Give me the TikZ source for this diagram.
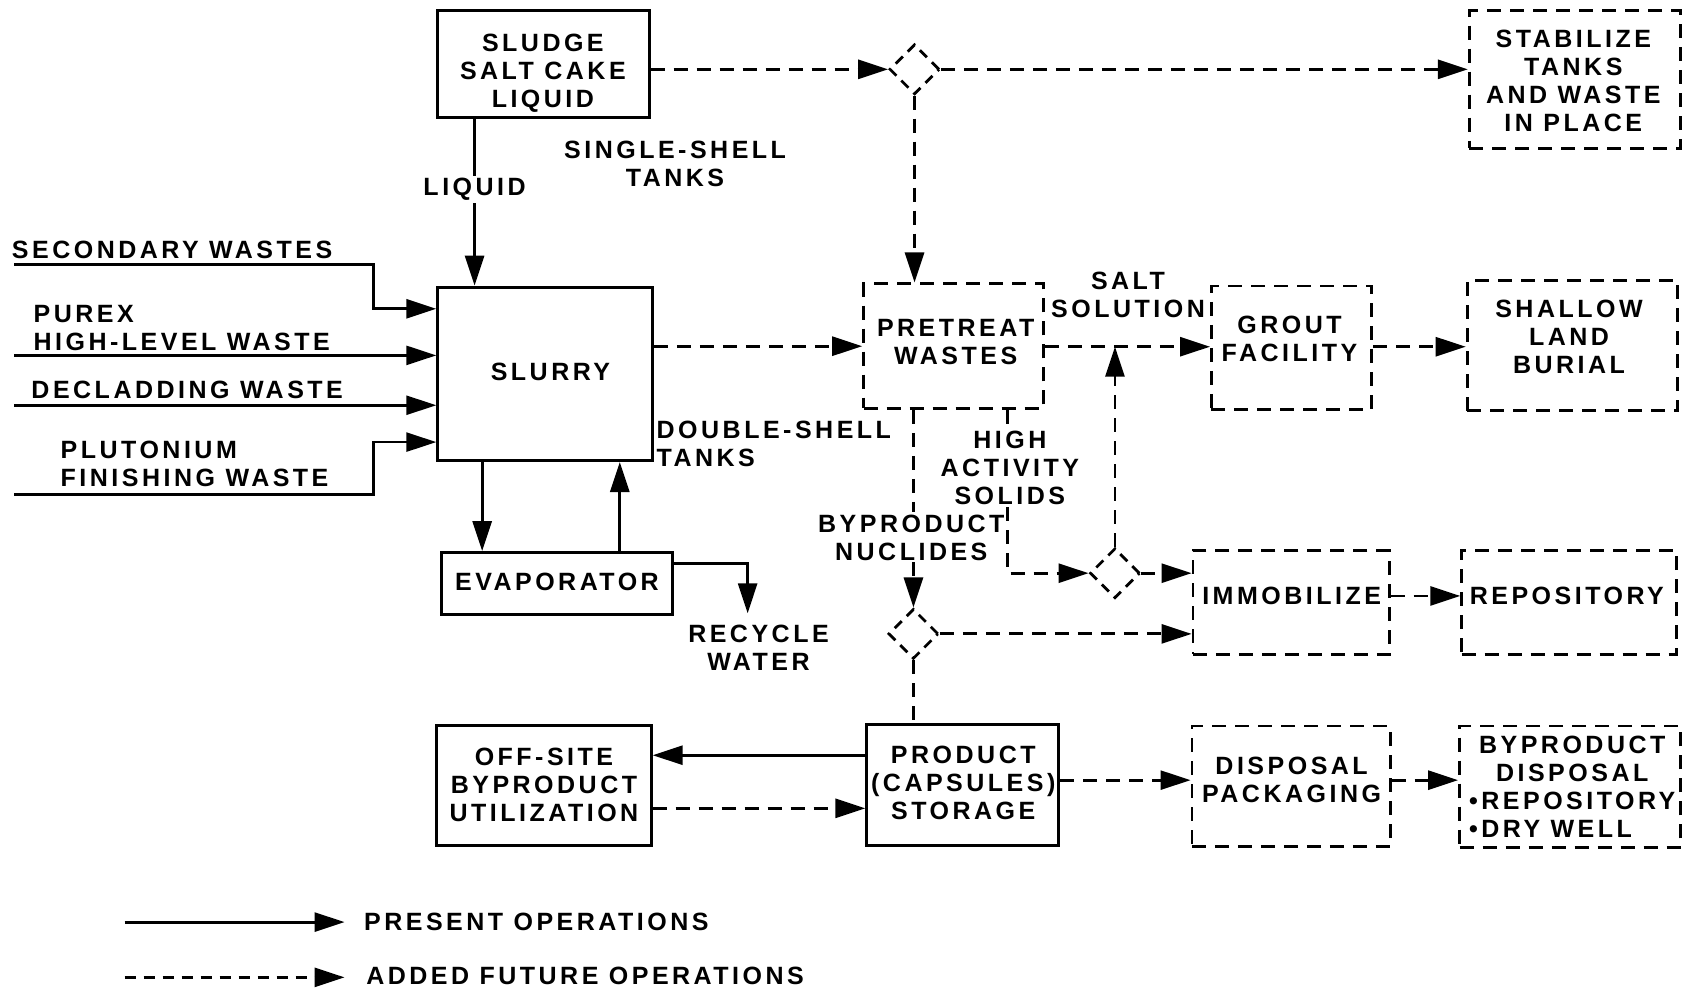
\documentclass[tikz,border=0pt]{standalone}
\usepackage{fontspec}
\newfontfamily\lblfont[LetterSpace=14]{Liberation Sans}
\usetikzlibrary{arrows.meta,shapes.geometric}
\begin{document}
\begin{tikzpicture}[x=1.0836pt,y=-1.0836pt,
  lbl/.style={font=\lblfont\bfseries\fontsize{25}{28}\selectfont, align=center, inner sep=2pt},
  sz/.style 2 args={minimum width=#1*1.0836pt, minimum height=#2*1.0836pt},
  solidbox/.style={draw, line width=3pt, inner sep=0pt},
  dashbox/.style={draw, line width=2.8pt, dash pattern=on 14pt off 9pt, inner sep=0pt},
  ln/.style={line width=2.8pt},
  arr/.style={ln, -{Triangle[length=30pt,width=19pt]}},
  dln/.style={ln, dash pattern=on 14pt off 9pt},
  darr/.style={dln, -{Triangle[length=30pt,width=19pt]}},
  junction/.style={diamond, aspect=1, draw, line width=2.8pt, dash pattern=on 10pt off 7pt, minimum size=50pt, inner sep=0pt}
]
\useasboundingbox (0,0) rectangle (1568,913);

% ---- boxes ----
\node[solidbox,sz={195}{98}]  (sludge)    at (501.5,59)   {};
\node[solidbox,sz={198}{160}] (slurry)    at (503,345)    {};
\node[solidbox,sz={214}{57}]  (evap)      at (514,538.5)  {};
\node[solidbox,sz={198}{110}] (offsite)   at (502,725)    {};
\node[solidbox,sz={177}{111}] (product)   at (888.5,724.5){};
\node[dashbox,sz={166}{115}]  (pretreat)  at (880,319.5)  {};
\node[dashbox,sz={148}{114}]  (grout)     at (1192,321)   {};
\node[dashbox,sz={194}{120}]  (shallow)   at (1451,319)   {};
\node[dashbox,sz={195}{127}]  (stabilize) at (1453.5,73.5){};
\node[dashbox,sz={181}{96}]   (immob)     at (1191.5,556) {};
\node[dashbox,sz={198}{96}]   (repos)     at (1448,556)   {};
\node[dashbox,sz={183}{111}]  (dispack)   at (1191.5,725.5){};
\node[dashbox,sz={204}{112}]  (bydisp)    at (1449,726)   {};

% ---- box texts ----
\node[lbl] (tsludge)   at (501,67.5)  {SLUDGE\\SALT CAKE\\LIQUID};
\node[lbl] (tslurry)   at (508,343)   {SLURRY};
\node[lbl] (tevap)     at (514,537)   {EVAPORATOR};
\node[lbl] (toffsite)  at (502,724.5) {OFF-SITE\\BYPRODUCT\\UTILIZATION};
\node[lbl] (tproduct)  at (889,722.5) {PRODUCT\\(CAPSULES)\\STORAGE};
\node[lbl] (tpretreat) at (882,315.5) {PRETREAT\\WASTES};
\node[lbl] (tgrout)    at (1190,313)  {GROUT\\FACILITY};
\node[lbl] (tshallow)  at (1448,311)  {SHALLOW\\LAND\\BURIAL};
\node[lbl] (tstab)     at (1452,75)   {STABILIZE\\TANKS\\AND WASTE\\IN PLACE};
\node[lbl] (timmob)    at (1192,550)  {IMMOBILIZE};
\node[lbl] (trepos)    at (1446,550)  {REPOSITORY};
\node[lbl] (tdispack)  at (1192,719.5){DISPOSAL\\PACKAGING};
\node[lbl] (tbydisp)   at (1451,726)  {BYPRODUCT\\DISPOSAL\\•REPOSITORY\\\rlap{•DRY WELL}\phantom{•REPOSITORY}};

% ---- junctions ----
\node[junction] (d1) at (844,64)  {};
\node[junction] (d2) at (1029,529) {};
\node[junction] (d3) at (843,585) {};

% ---- free labels ----
\node[lbl] (sst) at (623,151) {SINGLE-SHELL\\TANKS};
\node[lbl,anchor=west,align=left] (dst) at (604,410) {DOUBLE-SHELL\\TANKS};
\node[lbl] (salt) at (1041,272) {SALT\\SOLUTION};
\node[lbl] (rec) at (700,598) {RECYCLE\\WATER};
\node[lbl,anchor=west] (lsec) at (9,231) {SECONDARY WASTES};
\node[lbl,anchor=west,align=left] (lpur) at (29,302.5) {PUREX\\HIGH-LEVEL WASTE};
\node[lbl,anchor=west] (ldec) at (27,360) {DECLADDING WASTE};
\node[lbl,anchor=west,align=left] (lplu) at (54,428) {PLUTONIUM\\FINISHING WASTE};

% ---- connectors ----
\draw[darr] (sludge.east |- d1.west) -- (d1.west);
\draw[darr] (d1.east) -- (d1.east -| stabilize.west);
\draw[darr] (d1.south) -- (d1.south |- pretreat.north);

\node[lbl] (liq) at (438,175) {LIQUID};
\draw[ln] (liq.north |- sludge.south) -- (liq.north);
\draw[arr] (liq.south) -- (liq.south |- slurry.north);

\coordinate (in1) at (13,244); \coordinate (k1) at (345,285);
\draw[arr] (in1) -| (k1) -- (k1 -| slurry.west);
\coordinate (in2) at (13,328);
\draw[arr] (in2) -- (in2 -| slurry.west);
\coordinate (in3) at (13,374);
\draw[arr] (in3) -- (in3 -| slurry.west);
\coordinate (in4) at (13,456); \coordinate (k4) at (345,408);
\draw[arr] (in4) -| (k4) -- (k4 -| slurry.west);

\coordinate (ev1) at (445,0); \coordinate (ev2) at (572,0);
\draw[arr] (slurry.south -| ev1) -- (evap.north -| ev1);
\draw[arr] (evap.north -| ev2) -- (slurry.south -| ev2);
\coordinate (rw) at (690,566); \coordinate (ey) at (0,520);
\draw[arr] (evap.east |- ey) -| (rw);

\coordinate (sy) at (0,320);
\draw[darr] (slurry.east |- pretreat.west) -- (pretreat.west);
\draw[darr] (pretreat.east |- sy) -- (grout.west |- sy);
\draw[darr] (grout.east |- sy) -- (shallow.west |- sy);
\draw[darr] (d2.north) -- (d2.north |- sy);

\node[lbl] (ha) at (932,432) {HIGH\\ACTIVITY\\SOLIDS};
\coordinate (hx) at (930,529);
\draw[dln] (hx |- pretreat.south) -- (hx |- ha.north);
\draw[darr] (hx |- ha.south) -- (hx) -- (d2.west);

\node[lbl] (bn) at (841,496) {BYPRODUCT\\NUCLIDES};
\coordinate (bx) at (843,0);
\draw[dln] (bx |- pretreat.south) -- (bx |- bn.north);
\draw[darr] (bx |- bn.south) -- (d3.north);

\draw[darr] (d2.east) -- (d2.east -| immob.west);
\draw[darr] (d3.east) -- (d3.east -| immob.west);
\draw[dln] (d3.south) -- (d3.south |- product.north);

\coordinate (ry) at (0,550);
\draw[darr] (immob.east |- ry) -- (repos.west |- ry);
\coordinate (py1) at (0,697); \coordinate (py2) at (0,746); \coordinate (py3) at (0,720);
\draw[arr] (product.west |- py1) -- (offsite.east |- py1);
\draw[darr] (offsite.east |- py2) -- (product.west |- py2);
\draw[darr] (product.east |- py3) -- (dispack.west |- py3);
\draw[darr] (dispack.east |- py3) -- (bydisp.west |- py3);

% ---- legend ----
\coordinate (la) at (115,851); \coordinate (lb) at (318,851);
\draw[arr] (la) -- (lb);
\node[lbl,anchor=west] (lt1) at (334,851) {PRESENT OPERATIONS};
\coordinate (lc) at (115,902); \coordinate (ld) at (318,902);
\draw[ln, dash pattern=on 11pt off 8pt, -{Triangle[length=30pt,width=19pt]}] (lc) -- (ld);
\node[lbl,anchor=west] (lt2) at (336,901) {ADDED FUTURE OPERATIONS};
\end{tikzpicture}
\end{document}
